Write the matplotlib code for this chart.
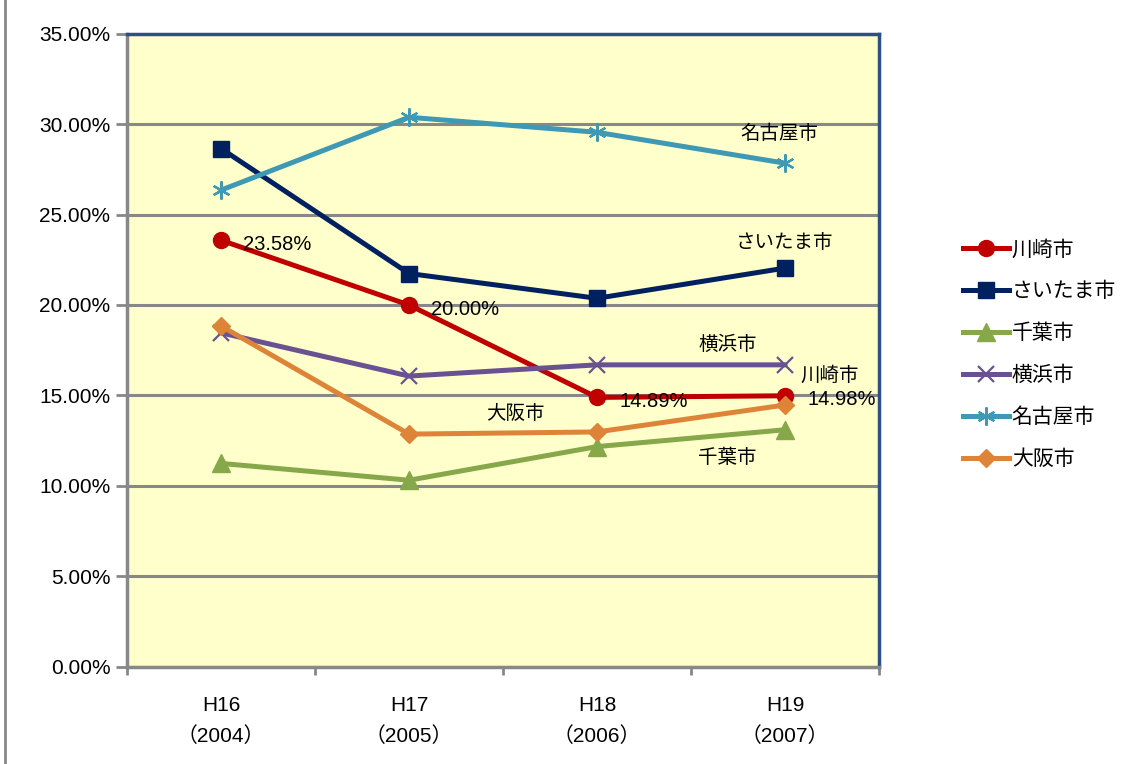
import matplotlib
matplotlib.use('Agg')
import matplotlib.pyplot as plt
from matplotlib.lines import Line2D

plt.rcParams['font.family'] = ['Liberation Sans', 'Noto Sans CJK JP', 'DejaVu Sans']

# データ
nendo = ['H16\n（2004）', 'H17\n（2005）', 'H18\n（2006）', 'H19\n（2007）']
kawasaki = [23.58, 20.00, 14.89, 14.98]
saitama = [28.65, 21.74, 20.37, 22.04]
chiba = [11.24, 10.31, 12.17, 13.10]
yokohama = [18.46, 16.07, 16.69, 16.69]
nagoya = [26.35, 30.38, 29.55, 27.84]
osaka = [18.84, 12.86, 12.98, 14.47]

series = [
    ('川崎市', kawasaki, '#C00000', 'o', 11.5),
    ('さいたま市', saitama, '#002060', 's', 11),
    ('千葉市', chiba, '#86A84A', '^', 13),
    ('横浜市', yokohama, '#6A5192', 'x', 12),
    ('名古屋市', nagoya, '#3F98B4', (6, 2, 0), 13),
    ('大阪市', osaka, '#DE8438', 'D', 9.5),
]

fig = plt.figure(figsize=(11.31, 7.64), dpi=100)
ax = fig.add_axes([127/1131, 1 - 666.7/764, (879-127)/1131, (666.7-33.7)/764])
ax.set_facecolor('#FFFFCC')

def estilo(col, mk, ms):
    if mk == 'x' or mk == (6, 2, 0):
        return dict(color=col, lw=3.6, marker=mk, ms=ms, mew=1.6, mec=col)
    return dict(color=col, lw=3.6, marker=mk, ms=ms, mec=col, mfc=col)

x = list(range(len(nendo)))
for nombre, vals, col, mk, ms in series:
    ax.plot(x, vals, '-', zorder=3, **estilo(col, mk, ms))

ax.set_xlim(-0.5, 3.5)
ax.set_ylim(0, 35)
ax.set_yticks([0, 5, 10, 15, 20, 25, 30, 35])
ax.set_yticklabels(['%.2f%%' % v for v in [0, 5, 10, 15, 20, 25, 30, 35]], fontsize=15)
ax.yaxis.grid(True, color='#888888', lw=2.2)
ax.set_axisbelow(True)
ax.set_xticks(x)
ax.set_xticklabels(nendo, fontsize=15, linespacing=1.7)
ax.set_xticks([-0.5, 0.5, 1.5, 2.5, 3.5], minor=True)
ax.tick_params(axis='x', which='major', length=0, pad=21)
ax.tick_params(axis='x', which='minor', length=6, width=2, color='#888888')
ax.tick_params(axis='y', length=8, width=2, color='#888888', pad=4)

for s in ['left', 'bottom']:
    ax.spines[s].set_color('#888888')
    ax.spines[s].set_linewidth(2.5)
for s in ['top', 'right']:
    ax.spines[s].set_color('#2B4F86')
    ax.spines[s].set_linewidth(2.5)

# 川崎市のラベル
etiq = ['23.58%', '20.00%', '14.89%', '14.98%']
for i, t in enumerate(etiq):
    ax.annotate(t, (x[i], kawasaki[i]), xytext=(16, -3), textcoords='offset points',
                fontsize=14.5, ha='left', va='center')

# 系列名
ax.text(2.968, 29.45, '名古屋市', fontsize=14, ha='center', va='center')
ax.text(3.0, 23.43, 'さいたま市', fontsize=14, ha='center', va='center')
ax.text(2.697, 17.79, '横浜市', fontsize=14, ha='center', va='center')
ax.text(3.24, 16.07, '川崎市', fontsize=14, ha='center', va='center')
ax.text(1.564, 13.97, '大阪市', fontsize=14, ha='center', va='center')
ax.text(2.691, 11.54, '千葉市', fontsize=14, ha='center', va='center')

handles = [Line2D([], [], **estilo(col, mk, ms)) for nombre, vals, col, mk, ms in series]
fig.legend(handles, [s[0] for s in series], loc='upper left',
           bbox_to_anchor=(944/1131, 1 - 221/764), frameon=False, fontsize=15,
           handlelength=2.2, handletextpad=0.15, labelspacing=1.08)

# 左端の線
fig.add_artist(Line2D([5/1131, 5/1131], [0, 1], color='#888888', lw=2))

fig.savefig('out.png', dpi=100)
